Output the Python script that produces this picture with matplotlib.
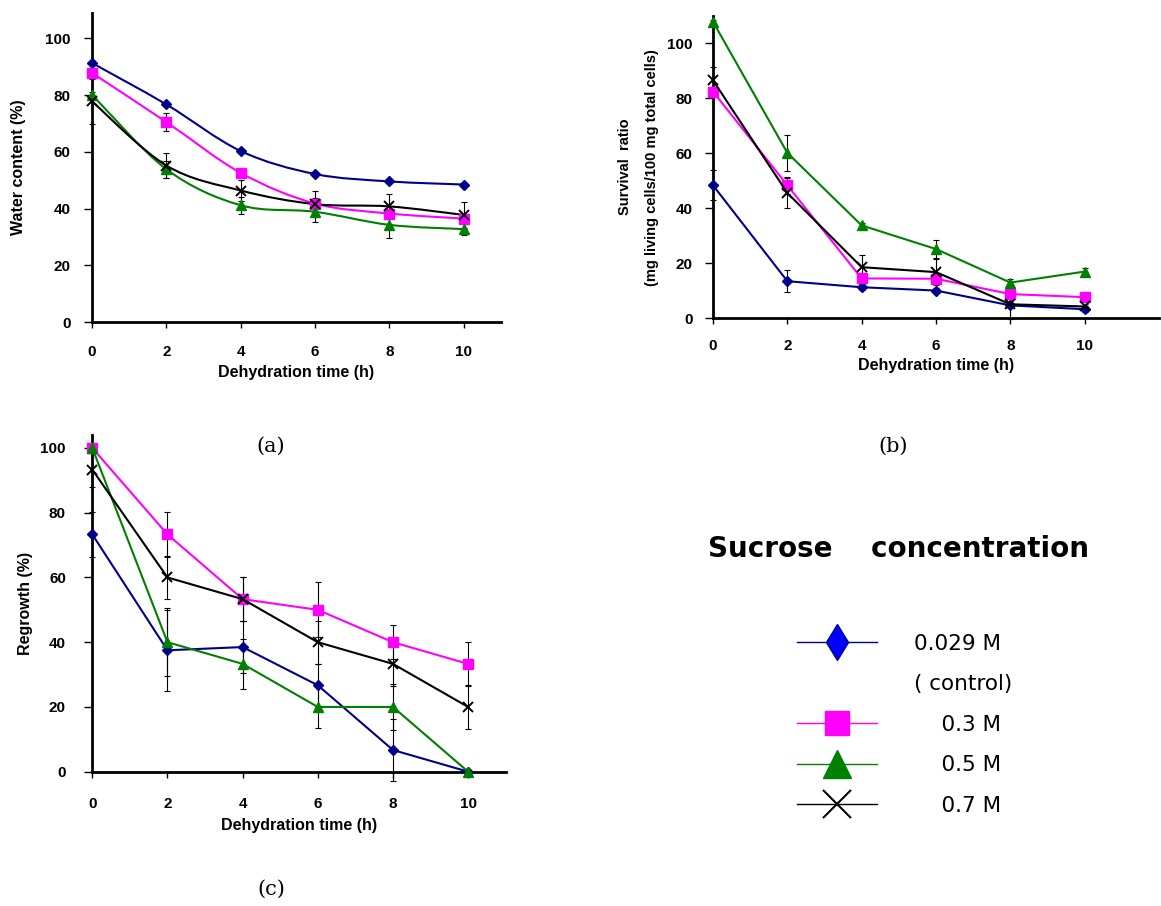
import numpy as np
import matplotlib
matplotlib.use("Agg")
import matplotlib.pyplot as plt
from matplotlib.path import Path
from matplotlib.patches import PathPatch
from matplotlib.lines import Line2D

# ---------------- data ----------------
hours = [0, 2, 4, 6, 8, 10]
series_labels = ["0.029 M", "( control)", "    0.3 M", "    0.5 M", "    0.7 M"]

# (a) water content (%)
wc_029 = [91.3, 76.7, 60.3, 52.2, 49.6, 48.5]
wc_03 = [87.8, 70.5, 52.6, 41.8, 38.3, 36.5]
wc_05 = [80.1, 53.9, 41.2, 38.9, 34.3, 32.8]
wc_07 = [77.8, 55.2, 46.4, 41.6, 40.8, 37.8]
wc_err_029 = [0.5, 0.5, 0.5, 0.5, 0.5, 0.5]
wc_err_03 = [1.0, 3.2, 1.0, 2.0, 1.0, 1.0]
wc_err_05 = [1.0, 3.0, 3.0, 3.5, 4.5, 2.0]
wc_err_07 = [8.0, 4.5, 3.8, 4.5, 4.5, 4.5]

# (b) survival ratio
sr_029 = [48.4, 13.5, 11.3, 10.1, 4.7, 3.3]
sr_03 = [82.5, 48.4, 14.5, 14.4, 8.8, 7.7]
sr_05 = [107.9, 60.2, 33.8, 25.2, 13.0, 17.0]
sr_07 = [86.6, 45.6, 18.6, 16.8, 5.1, 4.3]
sr_err_029 = [5.5, 4.0, 1.0, 1.0, 5.0, 1.0]
sr_err_03 = [1.0, 3.0, 1.0, 2.0, 1.0, 1.0]
sr_err_05 = [0.5, 6.6, 1.0, 3.3, 1.4, 1.4]
sr_err_07 = [5.0, 5.5, 4.4, 4.6, 5.0, 1.0]

# (c) regrowth (%)
rg_029 = [73.3, 37.5, 38.5, 26.7, 6.7, 0.0]
rg_03 = [100.0, 73.3, 53.3, 50.0, 40.0, 33.3]
rg_05 = [100.0, 40.0, 33.3, 20.0, 20.0, 0.0]
rg_07 = [93.3, 60.0, 53.3, 40.0, 33.3, 20.0]
rg_err_029 = [7.0, 12.5, 8.0, 6.7, 9.5, 0.0]
rg_err_03 = [0.0, 7.0, 6.7, 8.5, 5.2, 6.8]
rg_err_05 = [0.0, 10.5, 7.7, 6.5, 7.0, 0.0]
rg_err_07 = [5.4, 6.7, 6.7, 6.7, 6.7, 6.7]

y_ticks = [0, 20, 40, 60, 80, 100]

# ---------------- styles ----------------
NAVY = "#00008B"
MAG = "#FF00FF"
GRN = "#008000"
BLK = "#000000"
styles = [
    dict(color=NAVY, marker="D", ms=5, mfc=NAVY, mec=NAVY),
    dict(color=MAG, marker="s", ms=6.5, mfc=MAG, mec=MAG),
    dict(color=GRN, marker="^", ms=6.5, mfc=GRN, mec=GRN),
    dict(color=BLK, marker="x", ms=7, mfc=BLK, mec=BLK, mew=1.4),
]

AX_FONT = ["Liberation Sans", "DejaVu Sans"]
plt.rcParams["font.family"] = ["DejaVu Sans"]

fig = plt.figure(figsize=(11.61, 9.06), dpi=100)
W, H = 1161, 906


def px_axes(x0, ytop, x1, ybot):
    return fig.add_axes([x0 / W, 1 - ybot / H, (x1 - x0) / W, (ybot - ytop) / H])


def smooth_path(x, y):
    pts = np.column_stack([x, y]).astype(float)
    verts = [pts[0]]
    codes = [Path.MOVETO]
    n = len(pts)
    for i in range(n - 1):
        p0 = pts[i - 1] if i > 0 else pts[i]
        p1 = pts[i]
        p2 = pts[i + 1]
        p3 = pts[i + 2] if i + 2 < n else pts[i + 1]
        c1 = p1 + (p2 - p0) / 6.0
        c2 = p2 - (p3 - p1) / 6.0
        verts += [c1, c2, p2]
        codes += [Path.CURVE4] * 3
    return Path(verts, codes)


def style_axes(ax, xlim, ylim, xpad, ypad, xlabelpad):
    ax.set_xlim(*xlim)
    ax.set_ylim(*ylim)
    for s in ["top", "right"]:
        ax.spines[s].set_visible(False)
    for s in ["left", "bottom"]:
        ax.spines[s].set_linewidth(2.0)
        ax.spines[s].set_color("black")
    ax.set_xticks(hours)
    ax.set_yticks(y_ticks)
    ax.tick_params(axis="x", direction="out", length=4, width=1, pad=xpad)
    ax.tick_params(axis="y", direction="out", length=6, width=1, pad=ypad)
    for t in ax.get_xticklabels() + ax.get_yticklabels():
        t.set_fontweight("bold")
        t.set_family(AX_FONT)
        t.set_fontsize(11)
    ax.set_xlabel("Dehydration time (h)", fontsize=11.5, fontweight="bold",
                  family=AX_FONT, labelpad=xlabelpad)


def draw_panel(ax, data, errs, smooth=False):
    for vals, err, st in zip(data, errs, styles):
        ax.errorbar(hours, vals, yerr=err, fmt="none", ecolor="black",
                    elinewidth=0.8, capsize=2.5, capthick=0.8, clip_on=False,
                    zorder=2)
        if smooth:
            patch = PathPatch(smooth_path(hours, vals), fill=False,
                              edgecolor=st["color"], lw=1.5, zorder=3,
                              clip_on=False)
            ax.add_patch(patch)
            ax.plot(hours, vals, linestyle="none", marker=st["marker"],
                    ms=st["ms"], mfc=st["mfc"], mec=st["mec"],
                    mew=st.get("mew", 1.0), clip_on=False, zorder=4)
        else:
            ax.plot(hours, vals, color=st["color"], lw=1.5,
                    marker=st["marker"], ms=st["ms"], mfc=st["mfc"],
                    mec=st["mec"], mew=st.get("mew", 1.0), clip_on=False,
                    zorder=4)


# ---------- panel (a) ----------
ax_a = px_axes(92, 12.7, 501, 322.3)
draw_panel(ax_a, [wc_029, wc_03, wc_05, wc_07],
           [wc_err_029, wc_err_03, wc_err_05, wc_err_07], smooth=True)
style_axes(ax_a, (0, 11), (0, 109), xpad=12, ypad=9.5, xlabelpad=4.5)
ax_a.set_ylabel("Water content (%)", fontsize=11.5, fontweight="bold",
                family=AX_FONT, labelpad=14)

# ---------- panel (b) ----------
ax_b = px_axes(713, 16, 1159, 318.3)
draw_panel(ax_b, [sr_029, sr_03, sr_05, sr_07],
           [sr_err_029, sr_err_03, sr_err_05, sr_err_07])
style_axes(ax_b, (0, 12), (0, 110), xpad=11, ypad=8.6, xlabelpad=3.5)
ax_b.set_ylabel("Survival  ratio\n(mg living cells/100 mg total cells)",
                fontsize=10.5, fontweight="bold", family=AX_FONT, labelpad=6,
                linespacing=2.2)

# ---------- panel (c) ----------
ax_c = px_axes(92.3, 435, 505.7, 771.7)
draw_panel(ax_c, [rg_029, rg_03, rg_05, rg_07],
           [rg_err_029, rg_err_03, rg_err_05, rg_err_07])
style_axes(ax_c, (0, 11), (0, 104), xpad=14, ypad=13, xlabelpad=5.5)
ax_c.set_ylabel("Regrowth (%)", fontsize=11.5, fontweight="bold",
                family=AX_FONT, labelpad=5)

# ---------- panel labels ----------
for txt, (xp, yp) in zip(["(a)", "(b)", "(c)"],
                         [(271, 446), (893, 446), (271, 889)]):
    fig.text(xp / W, 1 - yp / H, txt, ha="center", va="center",
             fontsize=15, family=["DejaVu Serif"])

# ---------- legend ----------
fig.text(898 / W, 1 - 549 / H, "Sucrose    concentration", ha="center",
         va="center", fontsize=20, fontweight="heavy")

handles = [
    Line2D([], [], color=NAVY, lw=1, marker="d", ms=18, mfc="#0000FF",
           mec=NAVY),
    Line2D([], [], color="none", lw=0),
    Line2D([], [], color=MAG, lw=1, marker="s", ms=17, mfc=MAG, mec=MAG),
    Line2D([], [], color=GRN, lw=1, marker="^", ms=20, mfc=GRN, mec=GRN),
    Line2D([], [], color=BLK, lw=1, marker="x", ms=20, mew=1.5, mfc=BLK,
           mec=BLK),
]
leg = fig.legend(handles, series_labels, loc="upper left",
                 bbox_to_anchor=(797 / W, 1 - 634 / H), frameon=False,
                 borderpad=0, borderaxespad=0, handlelength=3.7,
                 handletextpad=1.75, labelspacing=0.95,
                 prop=dict(size=15.5, family="DejaVu Sans"))

fig.savefig("out.png", dpi=100)
